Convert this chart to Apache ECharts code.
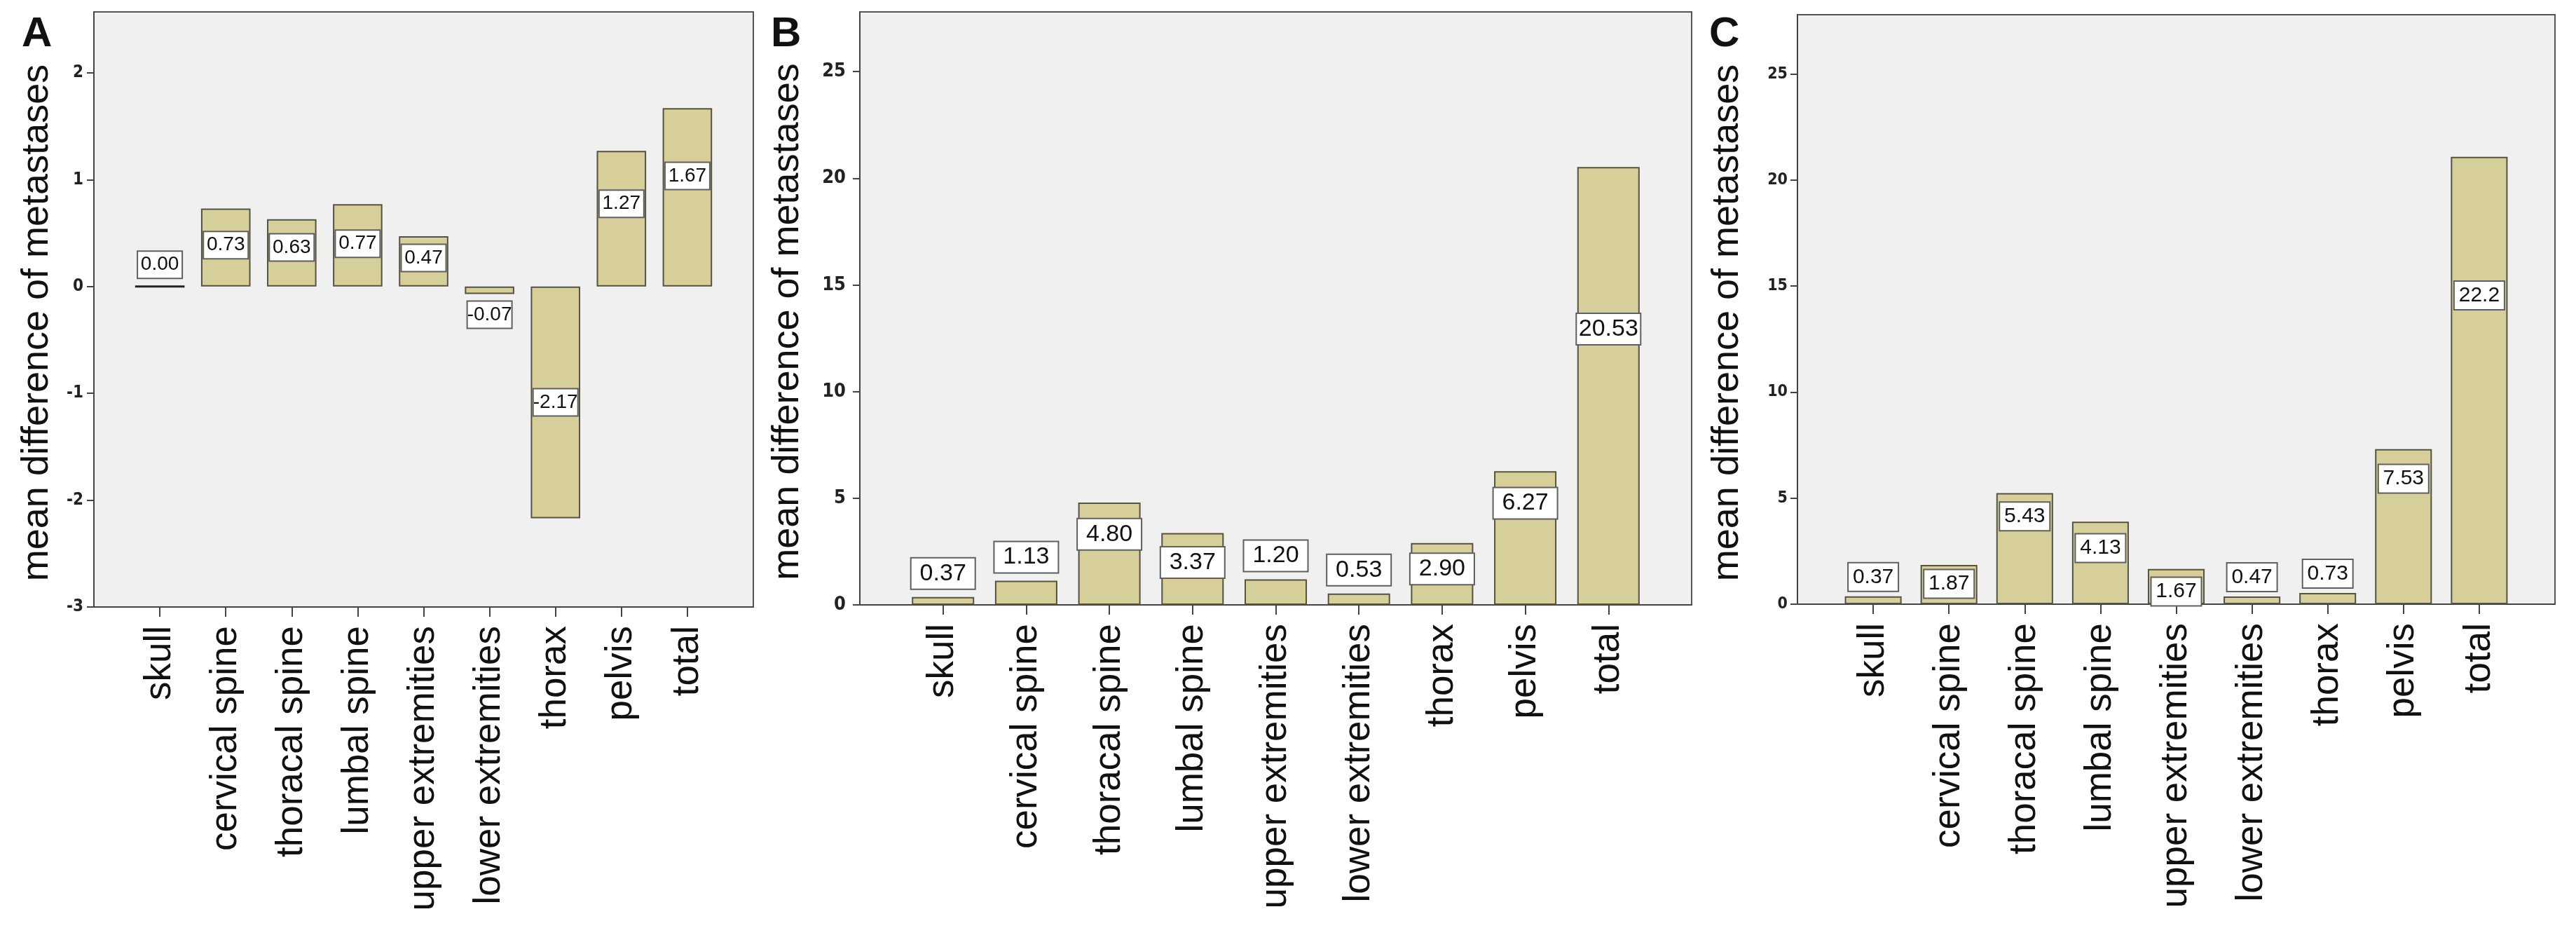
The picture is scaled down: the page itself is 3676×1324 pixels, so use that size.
<!DOCTYPE html>
<html>
<head>
<meta charset="utf-8">
<title>mean difference of metastases</title>
<script src="https://cdn.jsdelivr.net/npm/echarts@6/dist/echarts.min.js"></script>
<style>
  html, body { margin: 0; padding: 0; background: #fff; }
  #main { width: 3676px; height: 1324px; }
</style>
</head>
<body>
<div id="main"></div>
<script>
var sites = ['skull', 'cervical spine', 'thoracal spine', 'lumbal spine',
  'upper extremities', 'lower extremities', 'thorax', 'pelvis', 'total'];

// panel A
var valuesA = [0.00, 0.73, 0.63, 0.77, 0.47, -0.07, -2.17, 1.27, 1.67];
var ticksA = [-3, -2, -1, 0, 1, 2];

// panel B
var valuesB = [0.37, 1.13, 4.80, 3.37, 1.20, 0.53, 2.90, 6.27, 20.53];
var ticksB = [0, 5, 10, 15, 20, 25];

// panel C: bars as drawn, the printed numbers differ a little
var valuesC = [0.37, 1.85, 5.24, 3.89, 1.66, 0.36, 0.53, 7.31, 21.1];
var textC = ['0.37', '1.87', '5.43', '4.13', '1.67', '0.47', '0.73', '7.53', '22.2'];
var ticksC = [0, 5, 10, 15, 20, 25];

var textA = valuesA.map(function (v) { return v.toFixed(2); });
var textB = valuesB.map(function (v) { return v.toFixed(2); });

// where each value box sits: 'top'/'bottom' outside, or share of the bar height
var placeA = ['top', 0.53, 0.58, 0.52, 0.57, 'bottom', 0.5, 0.61, 0.62];
var placeB = ['top', 'top', 0.69, 0.59, 'top', 'top', 0.58, 0.76, 0.63];
var placeC = ['top', 0.52, 0.79, 0.68, 0.36, 'top', 'top', 0.81, 0.69];

var yTitle = 'mean difference of metastases';
var narrow = "'Liberation Sans Narrow', 'Arial Narrow', 'DejaVu Sans Condensed', sans-serif";
var sans = "'Liberation Sans', Arial, sans-serif";

var panels = [
  { letter: 'A', letterLeft: 31, values: valuesA, texts: textA, place: placeA, ticks: ticksA,
    min: -3, max: 2.57, grid: { left: 134, top: 17, width: 941, height: 849 },
    tickFont: 24, tickMargin: 15, nameGap: 54, gap: 11,
    label: { fontSize: 28, lineHeight: 29, width: 58, padding: [4, 2] } },
  { letter: 'B', letterLeft: 1100, values: valuesB, texts: textB, place: placeB, ticks: ticksB,
    min: 0, max: 27.8, grid: { left: 1227, top: 17, width: 1187, height: 846 },
    tickFont: 27, tickMargin: 20, nameGap: 76, gap: 12,
    label: { fontSize: 34, lineHeight: 35, width: 84, padding: [4, 3] } },
  { letter: 'C', letterLeft: 2439, values: valuesC, texts: textC, place: placeC, ticks: ticksC,
    min: 0, max: 27.8, grid: { left: 2565, top: 21, width: 1081, height: 841 },
    tickFont: 23, tickMargin: 14, nameGap: 73, gap: 8,
    label: { fontSize: 30, lineHeight: 31, width: 64, padding: [4, 3] } }
];

var padded = [''].concat(sites, ['']);

function itemLabel(p, i) {
  var v = p.values[i], where = p.place[i];
  var lab = { formatter: p.texts[i] };
  if (typeof where === 'string') {
    lab.position = where;
    lab.distance = p.gap;
  } else {
    var pct = v >= 0 ? (1 - where) * 100 : where * 100;
    lab.position = ['50%', pct + '%'];
    lab.align = 'center';
    lab.verticalAlign = 'middle';
  }
  return lab;
}

var option = {
  animation: false,
  backgroundColor: '#fff',
  title: [],
  grid: [],
  xAxis: [],
  yAxis: [],
  series: []
};

panels.forEach(function (p, k) {
  option.title.push({
    text: p.letter, left: p.letterLeft, top: 19, padding: 0,
    textStyle: { fontSize: 60, fontWeight: 'bold', fontFamily: sans, color: '#111' }
  });
  option.grid.push({
    left: p.grid.left, top: p.grid.top, width: p.grid.width, height: p.grid.height,
    show: true, backgroundColor: '#f0f0f0', borderColor: '#555', borderWidth: 2
  });
  option.xAxis.push({
    type: 'category', gridIndex: k, data: padded, boundaryGap: false,
    axisLine: { onZero: false, lineStyle: { color: '#444', width: 2 } },
    axisTick: {
      length: 14, lineStyle: { color: '#444', width: 2 },
      interval: function (i) { return i > 0 && i <= sites.length; }
    },
    axisLabel: { interval: 0, rotate: 90, margin: 27, fontSize: 53, color: '#111', fontFamily: sans }
  });
  option.yAxis.push({
    type: 'value', gridIndex: k, min: p.min, max: p.max,
    axisLine: { show: true, lineStyle: { color: '#444', width: 2 } },
    axisTick: { show: true, length: 10, customValues: p.ticks, lineStyle: { color: '#444', width: 2 } },
    axisLabel: { customValues: p.ticks, margin: p.tickMargin, fontSize: p.tickFont,
      fontWeight: 'bold', fontFamily: narrow, color: '#222' },
    splitLine: { show: false },
    name: yTitle, nameLocation: 'middle', nameGap: p.nameGap,
    nameTextStyle: { fontSize: 54, color: '#111', fontFamily: sans, padding: [0, 38, 0, 0] }
  });

  var data = ['-'];
  p.values.forEach(function (v, i) {
    var item = { value: v, label: itemLabel(p, i) };
    if (v === 0) item.itemStyle = { borderColor: '#222', borderWidth: 3 };
    data.push(item);
  });
  data.push('-');

  option.series.push({
    type: 'bar', xAxisIndex: k, yAxisIndex: k, barWidth: '75%', silent: true,
    data: data,
    itemStyle: { color: '#d6cf99', borderColor: '#55533f', borderWidth: 2 },
    label: {
      show: true, color: '#111', fontFamily: sans,
      fontSize: p.label.fontSize, lineHeight: p.label.lineHeight,
      width: p.label.width, padding: p.label.padding, align: 'center',
      backgroundColor: '#fff', borderColor: '#5f5f5f', borderWidth: 2
    }
  });
});

echarts.init(document.getElementById('main')).setOption(option);
</script>
</body>
</html>
